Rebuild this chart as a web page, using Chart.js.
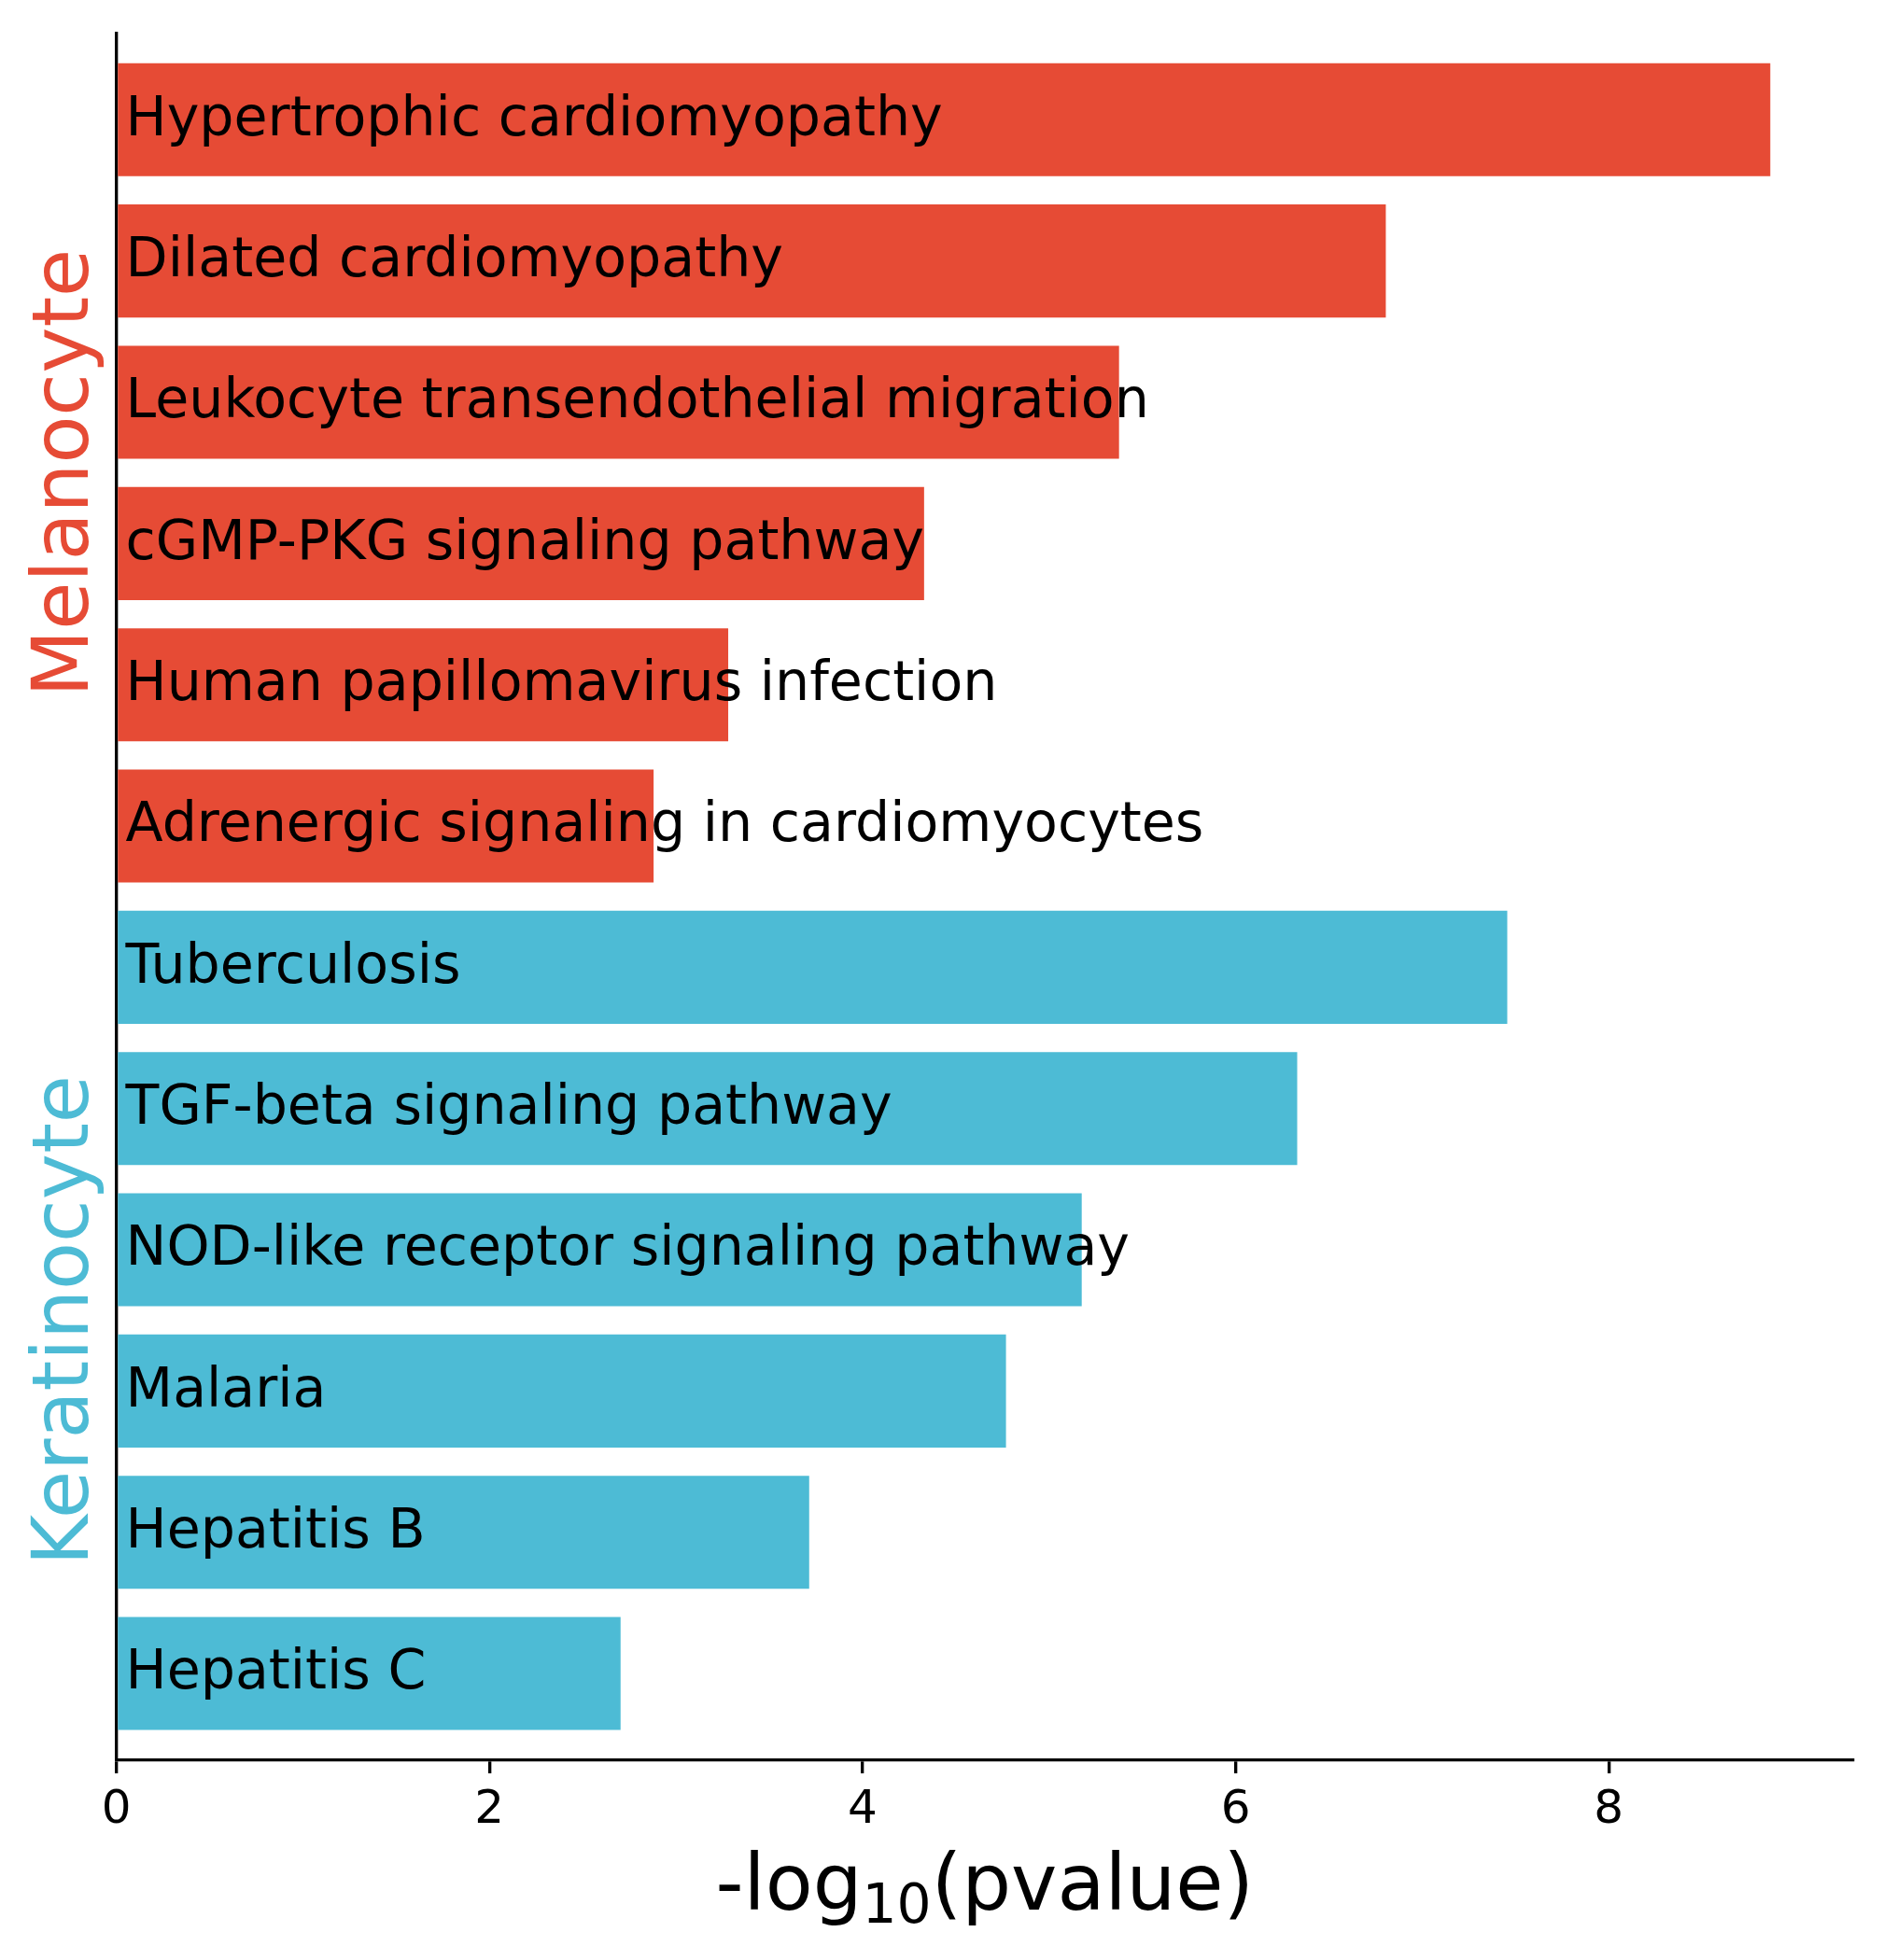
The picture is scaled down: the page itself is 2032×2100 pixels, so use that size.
<!DOCTYPE html>
<html lang="en">
<head>
  <meta charset="UTF-8">
  <title>KEGG enrichment</title>
  <script src="https://cdn.jsdelivr.net/npm/chart.js"></script>
  <style>
    body {
      margin: 0;
      background: #fff;
    }
    #wrap {
      width: 2032px;
      height: 2100px;
    }
  </style>
</head>
<body>
  <div id="wrap">
    <canvas id="barChart" width="2032" height="2100"></canvas>
  </div>

  <script>
    // pathways, top to bottom
    const pathways = [
      'Hypertrophic cardiomyopathy',
      'Dilated cardiomyopathy',
      'Leukocyte transendothelial migration',
      'cGMP-PKG signaling pathway',
      'Human papillomavirus infection',
      'Adrenergic signaling in cardiomyocytes',
      'Tuberculosis',
      'TGF-beta signaling pathway',
      'NOD-like receptor signaling pathway',
      'Malaria',
      'Hepatitis B',
      'Hepatitis C'
    ];
    // -log10(pvalue)
    const scores = [8.866, 6.805, 5.375, 4.33, 3.28, 2.88, 7.456, 6.33, 5.175, 4.769, 3.714, 2.703];
    const cellTypes = ['Melanocyte', 'Keratinocyte'];
    const cellOfPathway = [0, 0, 0, 0, 0, 0, 1, 1, 1, 1, 1, 1];
    const cellColors = ['#E64B35', '#4DBBD5'];
    const xTicks = [0, 2, 4, 6, 8];

    const FONT = '"DejaVu Sans", sans-serif';

    // pathway names written inside the bars
    const barLabels = {
      id: 'barLabels',
      afterDatasetsDraw(chart) {
        const ctx = chart.ctx;
        const xs = chart.scales.x;
        const meta = chart.getDatasetMeta(0);
        ctx.save();
        ctx.font = '58.6px ' + FONT;
        ctx.fillStyle = '#000';
        ctx.textAlign = 'left';
        ctx.textBaseline = 'alphabetic';
        meta.data.forEach((bar, i) => {
          ctx.fillText(pathways[i], xs.getPixelForValue(0.05), bar.y + 16.3);
        });
        ctx.restore();
      }
    };

    // rotated cell type names on the left
    const groupLabels = {
      id: 'groupLabels',
      afterDraw(chart) {
        const ctx = chart.ctx;
        const ys = chart.scales.y;
        ctx.save();
        ctx.font = '83.3px ' + FONT;
        ctx.textAlign = 'center';
        ctx.textBaseline = 'alphabetic';
        cellTypes.forEach((name, g) => {
          const idx = cellOfPathway.map((c, i) => c === g ? i : -1).filter(i => i >= 0);
          const mid = (ys.getPixelForValue(idx[0]) + ys.getPixelForValue(idx[idx.length - 1])) / 2;
          ctx.save();
          ctx.translate(93.5, mid);
          ctx.rotate(-Math.PI / 2);
          ctx.fillStyle = cellColors[g];
          ctx.fillText(name, 0, 0);
          ctx.restore();
        });
        ctx.restore();
      }
    };

    // x axis title with subscript: -log10(pvalue)
    const xTitle = {
      id: 'xTitle',
      afterDraw(chart) {
        const ctx = chart.ctx;
        const area = chart.chartArea;
        const big = '83.3px ' + FONT;
        const small = '58.3px ' + FONT;
        ctx.save();
        ctx.fillStyle = '#000';
        ctx.textBaseline = 'alphabetic';
        ctx.textAlign = 'left';
        ctx.font = big;
        const w1 = ctx.measureText('-log').width;
        const w3 = ctx.measureText('(pvalue)').width;
        ctx.font = small;
        const w2 = ctx.measureText('10').width;
        let x = (area.left + area.right) / 2 - (w1 + w2 + w3) / 2;
        const base = 2046;
        ctx.font = big;
        ctx.fillText('-log', x, base);
        x += w1;
        ctx.font = small;
        ctx.fillText('10', x, base + 14);
        x += w2;
        ctx.font = big;
        ctx.fillText('(pvalue)', x, base);
        ctx.restore();
      }
    };

    const ctx = document.getElementById('barChart').getContext('2d');
    const barChart = new Chart(ctx, {
      type: 'bar',
      data: {
        datasets: [{
          data: scores.map((v, i) => ({ x: v, y: i })),
          backgroundColor: cellOfPathway.map(c => cellColors[c]),
          borderWidth: 0,
          categoryPercentage: 1.0,
          barPercentage: 0.8
        }]
      },
      options: {
        indexAxis: 'y',
        responsive: false,
        animation: false,
        layout: {
          padding: { left: 124.6, top: 36, right: 47, bottom: 120 }
        },
        plugins: {
          legend: { display: false },
          tooltip: { enabled: false }
        },
        scales: {
          x: {
            type: 'linear',
            min: 0,
            max: 9.31,
            z: 1,
            afterBuildTicks: (scale) => {
              scale.ticks = xTicks.map(v => ({ value: v }));
            },
            border: { display: true, color: '#000', width: 3.33 },
            grid: {
              display: true,
              drawOnChartArea: false,
              drawTicks: true,
              tickLength: 14.6,
              lineWidth: 3.33,
              color: '#000'
            },
            ticks: {
              color: '#000',
              padding: 10,
              font: { family: FONT, size: 50 }
            }
          },
          y: {
            type: 'linear',
            reverse: true,
            offset: false,
            min: -0.61,
            max: 11.61,
            z: 1,
            // one hidden tick per pathway, so bar width follows the row spacing
            afterBuildTicks: (scale) => {
              scale.ticks = pathways.map((p, i) => ({ value: i }));
            },
            border: { display: true, color: '#000', width: 3.33 },
            grid: { display: false, drawTicks: false },
            ticks: { display: false }
          }
        }
      },
      plugins: [barLabels, groupLabels, xTitle]
    });
  </script>
</body>
</html>
